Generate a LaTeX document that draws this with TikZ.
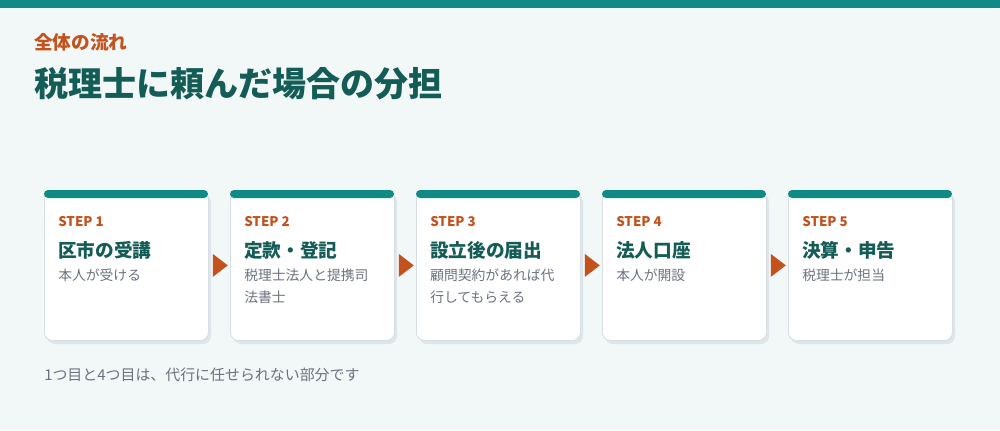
\documentclass[tikz,border=0pt]{standalone}
\usepackage{fontspec}
\setmainfont{Noto Sans CJK JP}
\usetikzlibrary{calc}
\definecolor{bgcol}{HTML}{F2F7F7}
\definecolor{barcol}{HTML}{0F8A84}
\definecolor{headcol}{HTML}{145C56}
\definecolor{stepcol}{HTML}{C4521C}
\definecolor{subcol}{HTML}{6B7280}
\definecolor{cardline}{HTML}{D6DEE4}
\definecolor{shadowcol}{HTML}{DEE5EB}
\tikzset{
	card/.style={draw=cardline, line width=0.6pt, fill=white, rounded corners=6pt, minimum width=123pt, minimum height=112.5pt, inner sep=0pt, anchor=north west},
	steplbl/.style={anchor=base west, inner sep=0pt, text=stepcol, font=\fontsize{10pt}{11pt}\selectfont\bfseries},
	steptitle/.style={anchor=base west, inner sep=0pt, text=headcol, font=\fontsize{14pt}{16pt}\selectfont\bfseries},
	stepsub/.style={anchor=base west, inner sep=0pt, text=subcol, font=\fontsize{10.35pt}{16.5pt}\selectfont},
}
% one step card: x, name, number, title, text
\newcommand\stepcard[5]{%
	\fill[shadowcol, rounded corners=6pt] (#1+3,194) rectangle (#1+167,344);
	\node[card] (#2) at (#1,190) {};
	\fill[barcol, rounded corners=3pt] (#1,190) rectangle (#1+164,198);
	\node[steplbl] (#2-no) at (#1+14,226.5) {STEP #3};
	\node[steptitle] (#2-t) at (#1+14,257) {#4};
	\node[stepsub] (#2-s) at (#1+14,280) {\begin{tabular}[t]{@{}l@{}}#5\end{tabular}};
}

\begin{document}
\begin{tikzpicture}[x=0.75pt, y=-0.75pt]
	%%%%% START %%%%%
	
	\fill[bgcol] (0,0) rectangle (1000,430);
	\fill[barcol] (0,0) rectangle (1000,8);
	
	\node[anchor=base west, inner sep=0pt, text=stepcol, font=\fontsize{14pt}{16pt}\selectfont\bfseries] (kicker) at (34,49.5) {全体の流れ};
	\node[anchor=base west, inner sep=0pt, text=headcol, font=\fontsize{25.5pt}{28pt}\selectfont\bfseries] (title) at (34,96) {税理士に頼んだ場合の分担};
	
	\stepcard{44}{c1}{1}{区市の受講}{本人が受ける}
	\stepcard{230}{c2}{2}{定款・登記}{税理士法人と提携司\\法書士}
	\stepcard{416}{c3}{3}{設立後の届出}{顧問契約があれば代\\行してもらえる}
	\stepcard{602}{c4}{4}{法人口座}{本人が開設}
	\stepcard{788}{c5}{5}{決算・申告}{税理士が担当}
	
	\fill[stepcol] ($(c1.east)+(4,-11.5)$) -- ++(0,23) -- ++(15,-11.5) -- cycle;
	\fill[stepcol] ($(c2.east)+(4,-11.5)$) -- ++(0,23) -- ++(15,-11.5) -- cycle;
	\fill[stepcol] ($(c3.east)+(4,-11.5)$) -- ++(0,23) -- ++(15,-11.5) -- cycle;
	\fill[stepcol] ($(c4.east)+(4,-11.5)$) -- ++(0,23) -- ++(15,-11.5) -- cycle;
	
	\node[anchor=base west, inner sep=0pt, text=subcol, font=\fontsize{11.2pt}{13pt}\selectfont] (note) at (44,380.5) {1つ目と4つ目は、代行に任せられない部分です};
	
	%%%%% END %%%%%
\end{tikzpicture}
\end{document}
